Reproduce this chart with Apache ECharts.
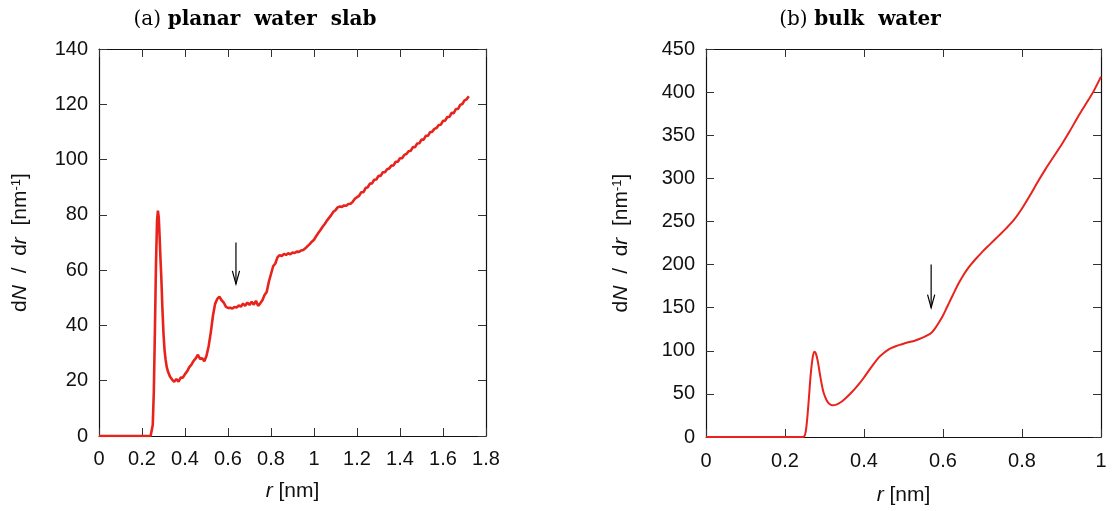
<!DOCTYPE html>
<html>
<head>
<meta charset="utf-8">
<script src="https://cdn.jsdelivr.net/npm/echarts@6/dist/echarts.min.js"></script>
<style>
  html, body { margin: 0; padding: 0; background: #fff; }
  #chart { width: 1113px; height: 511px; }
</style>
</head>
<body>
<div id="chart"></div>
<script>
// (a) planar water slab: r [nm] and dN/dr [nm^-1]
const slabR = [
  0, 0.05, 0.10, 0.15, 0.20, 0.24, 0.245, 0.25, 0.255, 0.26, 0.265, 0.27, 0.274, 0.278, 0.282, 0.286,
  0.29, 0.295, 0.30, 0.305, 0.31, 0.315, 0.32, 0.33, 0.34, 0.35, 0.36, 0.37, 0.38, 0.39,
  0.40, 0.41, 0.42, 0.43, 0.44, 0.45, 0.46, 0.47, 0.48, 0.49,
  0.50, 0.51, 0.52, 0.53, 0.54, 0.55, 0.56, 0.57, 0.58, 0.59,
  0.60, 0.61, 0.62, 0.63, 0.64, 0.65, 0.66, 0.67, 0.68, 0.69,
  0.70, 0.71, 0.72, 0.73, 0.74, 0.75, 0.76, 0.77, 0.78, 0.79,
  0.80, 0.81, 0.82, 0.83, 0.84, 0.85, 0.86, 0.87, 0.88, 0.89,
  0.90, 0.91, 0.92, 0.93, 0.94, 0.95, 0.96, 0.97, 0.98, 0.99,
  1.00, 1.01, 1.02, 1.03, 1.04, 1.05, 1.06, 1.07, 1.08, 1.09,
  1.10, 1.11, 1.12, 1.13, 1.14, 1.15, 1.16, 1.17, 1.18, 1.19,
  1.20, 1.21, 1.22, 1.23, 1.24, 1.25, 1.26, 1.27, 1.28, 1.29,
  1.30, 1.31, 1.32, 1.33, 1.34, 1.35, 1.36, 1.37, 1.38, 1.39,
  1.40, 1.41, 1.42, 1.43, 1.44, 1.45, 1.46, 1.47, 1.48, 1.49,
  1.50, 1.51, 1.52, 1.53, 1.54, 1.55, 1.56, 1.57, 1.58, 1.59,
  1.60, 1.61, 1.62, 1.63, 1.64, 1.65, 1.66, 1.67, 1.68, 1.69,
  1.70, 1.71, 1.72
];
const slabDNdr = [
  0, 0, 0, 0, 0, 0, 0.3, 4, 16, 38, 62, 78, 81.5, 79, 72, 64,
  57, 46, 37, 31, 27.5, 25, 23.5, 21.5, 20.4, 19.6, 20.6, 19.7, 21.1, 21.1,
  22.4, 23.4, 24.9, 25.8, 27.2, 28.1, 29.4, 27.9, 28.1, 27,
  29, 32.5, 37.5, 43.5, 47.8, 49.6, 50.4, 49.1, 48.3, 46.8,
  46.3, 46.4, 46.1, 46.7, 46.5, 47.2, 46.8, 47.9, 47.1, 48.3,
  47.4, 48.6, 47.5, 48.9, 47.1, 48, 49.1, 51, 52.1, 55.8,
  58.6, 61.4, 62.4, 64.6, 65.4, 65.1, 65.9, 65.5, 66.1, 65.7,
  66.4, 66.2, 66.7, 66.6, 67.1, 67.3, 67.9, 68.7, 69.4, 70.3,
  71, 72.3, 73.4, 74.5, 75.7, 76.7, 77.9, 78.9, 79.9, 81.1,
  81.7, 82.7, 83, 82.9, 83.4, 83.3, 83.9, 84, 84.7, 85.8,
  86.4, 86.9, 88.2, 88.2, 89.7, 90, 91.3, 91.4, 92.7, 92.8,
  94.1, 94.1, 95.4, 95.4, 96.5, 96.8, 97.8, 97.9, 99.2, 99.2,
  100.5, 100.5, 101.7, 102, 103, 103.2, 104.5, 104.5, 105.8, 105.9,
  107.2, 107.2, 108.6, 108.6, 109.9, 110.1, 111.1, 111.4, 112.5, 112.6,
  114, 114.1, 115.4, 115.4, 116.9, 116.8, 118.3, 118.3, 119.8, 120.1,
  121.4, 121.8, 122.9
];

// (b) bulk water: r [nm] and dN/dr [nm^-1]
const bulkR = [
  0, 0.10, 0.20, 0.24, 0.248, 0.252, 0.256, 0.26, 0.265, 0.27, 0.274, 0.278, 0.283, 0.288,
  0.293, 0.298, 0.305, 0.312, 0.32, 0.33, 0.34, 0.35, 0.36, 0.37, 0.38, 0.39,
  0.40, 0.41, 0.42, 0.43, 0.44, 0.45, 0.46, 0.47, 0.48, 0.49,
  0.50, 0.51, 0.52, 0.53, 0.54, 0.55, 0.56, 0.57, 0.58, 0.59,
  0.60, 0.61, 0.62, 0.63, 0.64, 0.65, 0.66, 0.67, 0.68, 0.69,
  0.70, 0.72, 0.74, 0.76, 0.78, 0.80, 0.82, 0.84, 0.86, 0.88,
  0.90, 0.92, 0.94, 0.96, 0.98, 1.00
];
const bulkDNdr = [
  0, 0, 0, 0, 0.5, 5, 20, 42, 72, 92, 99, 97, 88, 74,
  61, 51, 43, 38.5, 36.8, 37.5, 40, 43.5, 47.8, 52.5, 57.5, 63,
  69, 75.5, 82, 88, 93.5, 97.5, 100.8, 103.3, 105.2, 106.8,
  108.2, 109.5, 110.7, 112, 113.6, 115.5, 117.8, 120.5, 126, 133,
  141, 150.5, 160, 169.5, 178.5, 186.5, 193.5, 199.5, 205, 210,
  215, 224, 233, 242, 252, 265, 280, 296, 311, 325,
  339, 354, 370, 385, 400, 418
];

// Arrows: [r, tail value, tip value]
const slabArrow = [[0.637, 70, 55]];
const bulkArrow = [[0.57, 200, 150]];

const slabTicksX = { min: 0, max: 1.8, interval: 0.2 };
const slabTicksY = { min: 0, max: 140, interval: 20 };
const bulkTicksX = { min: 0, max: 1, interval: 0.2 };
const bulkTicksY = { min: 0, max: 450, interval: 50 };

const zip = (a, b) => a.map((v, i) => [v, b[i]]);

const SANS = '"Liberation Sans", Arial, Helvetica, sans-serif';
const SERIF = '"DejaVu Serif", "Liberation Serif", serif';
const RED = '#e8231c';
const INK = '#111';
const TICK_FONT = 20;
const NAME_FONT = 21;

const yName = 'd{i|N}  /  d{i|r}  [nm{s|-1}]';
const xName = '{i|r} [nm]';
const richName = {
  i: { fontStyle: 'italic', fontFamily: SANS, fontSize: NAME_FONT, color: INK },
  s: { fontFamily: SANS, fontSize: 13, color: INK, verticalAlign: 'top', padding: [0, 0, 8, 0] }
};

function frameAxis(extra) {
  return Object.assign({
    type: 'value',
    axisLine: { show: true, onZero: false, lineStyle: { color: INK, width: 1.2 } },
    axisTick: { show: true, inside: true, length: 8, lineStyle: { color: '#333', width: 1 } },
    splitLine: { show: false },
    axisLabel: { show: false }
  }, extra);
}

function mainAxis(extra) {
  return frameAxis(Object.assign({
    nameLocation: 'middle',
    nameTextStyle: { color: INK, fontFamily: SANS, fontSize: NAME_FONT, rich: richName }
  }, extra));
}

function tickLabels(margin) {
  return { show: true, color: INK, fontFamily: SANS, fontSize: TICK_FONT, margin };
}

function arrowItem(params, api) {
  const tail = api.coord([api.value(0), api.value(1)]);
  const tip = api.coord([api.value(0), api.value(2)]);
  const hw = 3.6, hl = 13;
  const style = { stroke: '#000', lineWidth: 1.2, fill: null };
  return {
    type: 'group',
    children: [
      { type: 'line', shape: { x1: tail[0], y1: tail[1], x2: tip[0], y2: tip[1] }, style },
      { type: 'polyline', shape: { points: [[tip[0] - hw, tip[1] - hl], [tip[0], tip[1]], [tip[0] + hw, tip[1] - hl]] }, style }
    ]
  };
}

function panelTitle(x, tag, label) {
  return {
    type: 'text', x, y: 20,
    style: {
      text: '{n|' + tag + '}  {b|' + label + '}',
      textAlign: 'center', textVerticalAlign: 'middle',
      rich: {
        n: { fontFamily: SERIF, fontSize: 20, fontWeight: 'normal', fill: '#000' },
        b: { fontFamily: SERIF, fontSize: 20, fontWeight: 'bold', fill: '#000' }
      }
    }
  };
}

const chart = echarts.init(document.getElementById('chart'), null, { renderer: 'canvas' });

chart.setOption({
  backgroundColor: '#fff',
  animation: false,
  grid: [
    { left: 99, top: 49, width: 387, height: 387 },
    { left: 706, top: 49, width: 395, height: 396 }
  ],
  xAxis: [
    mainAxis(Object.assign({ gridIndex: 0, position: 'bottom', name: xName, nameGap: 45, axisLabel: tickLabels(13) }, slabTicksX)),
    frameAxis(Object.assign({ gridIndex: 0, position: 'top' }, slabTicksX)),
    mainAxis(Object.assign({ gridIndex: 1, position: 'bottom', name: xName, nameGap: 48, axisLabel: tickLabels(14) }, bulkTicksX)),
    frameAxis(Object.assign({ gridIndex: 1, position: 'top' }, bulkTicksX))
  ],
  yAxis: [
    mainAxis(Object.assign({ gridIndex: 0, position: 'left', name: yName, nameGap: 68, axisLabel: tickLabels(11) }, slabTicksY)),
    frameAxis(Object.assign({ gridIndex: 0, position: 'right' }, slabTicksY)),
    mainAxis(Object.assign({ gridIndex: 1, position: 'left', name: yName, nameGap: 74, axisLabel: tickLabels(11) }, bulkTicksY)),
    frameAxis(Object.assign({ gridIndex: 1, position: 'right' }, bulkTicksY))
  ],
  graphic: [
    panelTitle(255, '(a)', 'planar  water  slab'),
    panelTitle(860, '(b)', 'bulk  water')
  ],
  series: [
    {
      type: 'line', xAxisIndex: 0, yAxisIndex: 0,
      data: zip(slabR, slabDNdr),
      showSymbol: false, smooth: false,
      lineStyle: { color: RED, width: 2.6 },
      z: 3
    },
    {
      type: 'line', xAxisIndex: 2, yAxisIndex: 2,
      data: zip(bulkR, bulkDNdr),
      showSymbol: false, smooth: 0.3,
      lineStyle: { color: RED, width: 2 },
      z: 3
    },
    {
      type: 'custom', xAxisIndex: 0, yAxisIndex: 0,
      data: slabArrow, renderItem: arrowItem, silent: true, z: 4
    },
    {
      type: 'custom', xAxisIndex: 2, yAxisIndex: 2,
      data: bulkArrow, renderItem: arrowItem, silent: true, z: 4
    }
  ]
});
</script>
</body>
</html>
